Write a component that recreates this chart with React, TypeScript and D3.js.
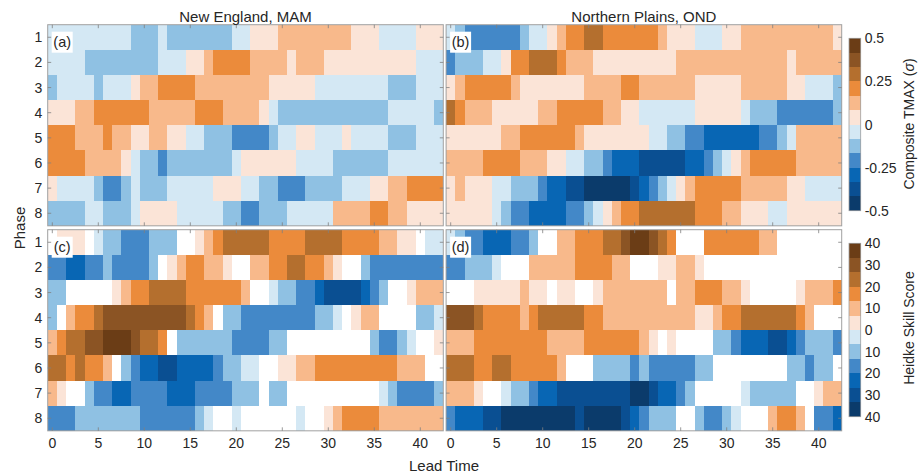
import React, { useEffect, useRef } from 'react';
import * as d3 from 'd3';

// rows = MJO phase, columns = lead time 0..42
const phases = [1, 2, 3, 4, 5, 6, 7, 8];
const leadTicks = [0, 5, 10, 15, 20, 25, 30, 35, 40];
const tmaxTicks = [0.5, 0.25, 0, -0.25, -0.5];
const hssTicks = [40, 30, 20, 10, 0, -10, -20, -30, -40];
const regionTitles = ['New England, MAM', 'Northern Plains, OND'];
const panelLabels = ['(a)', '(b)', '(c)', '(d)'];

// one char per lead time: colour level 0 (most negative) .. b (most positive), w = white (not shaded)
const tmaxNewEngland = [
  '555555555 444 5 4444444 55 666 77777777 666 5555 666',
  '5555 44444444 555 66 7 8888 7777 6 777 6666666666 555',
  '4 5555 4 555 6 77 8888 77777777 66666 55555555 444 555',
  '666 77 888888 77777 888 7777 6 5 444444444444 55555 4',
  '888 777 8 77 66 77 66 55 444 3333 4 55 66 555 6 5555 444 555',
  '8888 7777 6 5 44 3 4444444 5 666666 5555 444444 555555',
  '6 5555 4 33 4 5 444 55555 666 55 44 333 4444 555 66 77 8888',
  '4444 55 444 5 6666 55555 44 33 444 55555 7777 88 77 6666',
];

const tmaxNorthernPlains = [
  '5 4 333333 4 55 6 7 88 99 888888 7 666 555 66 7777777777 6',
  '3 444 55 6 88 999 8 777 666666666 777777777777 6 77777',
  '6 7 88888 7 6666666 7777 88 777777 66666 77777 66 555 4',
  '9 8 777 66666 77 88888 77 66 555555 66666 5 444 333333 4',
  '666666 77 888888 7 6666666 55 44 33 222222 33 4 5 77777',
  '7777 8888 777 66 55 44 3 222 11111 22 3 4 5 6 7 88888 77777',
  '6 7 666 55 444 3 22 11 00000 1 2 3 4 5 6 7 88888 77777 66 5555',
  '66666 5 4 33 2222 33 4 5 6 7 88 999999 888 77 666 55 666666',
];

const hssNewEngland = [
  'w 666 w 5 44 333 444 ww 6 7 8 99999 8888 9999 8888 77 66 w 55',
  '33 22 33 4 3333 4 w 6 7 88 77 6 ww 77 88 99 88 7 6 ww 4 33333333',
  '44 wwwww 6 7 88 9999 888888 7 ww 5 44 33 2 1111 2 3 4 ww 6 777',
  '4 w 7 88 9 aaaaaaaaa 9 8 7 w 44 33333333 44 5 w 6 77 wwww 44 5',
  '7 8 99 aa bbb a 99 8 w 444444 3333 44 wwwwwwwww 4 33 4 5 ww 6',
  '99 8 9 88 7 w 4 3 22 11 2222 3 44 55 ww 66 77 888888888 777 ww',
  '7 6 ww 4 33 22 3333 222 3333 444 w 44 wwwwwwwwww 5 4 3333 4',
  '333 4444444 333333 4 5 ww 5 wwwwww 5 ww 6 7 8888 7777777',
];

const hssNorthernPlains = [
  '5 4 33 222 33 4 ww 77 888 99 a bb a 9 8 www 888888 77 wwwwwww',
  '33 444 5 www 77777 8888 77 www 66 77 6 wwwwwwwwwwwwwww',
  'www 66666 7 66 w 66 ww 6 7777777 w 77 888 77 6 wwwww 6 777 8',
  'aaa 9 8888 7 8 99999 88 7777777777 66 7 88 999999 8 7 www',
  '777 88888888 7777 888888 7 6 w 6 wwww 44 3 222 11 2 3 444 3',
  '999 88 99 88888 7 www 4444 3 4 33333 44 wwwwwwww 44 3 44 w',
  '777 6 ww 5 44 3 22 11111111 00 1 22 3 4 wwwww 5 44444 ww 6 77',
  '3 222 11 00000000 1 0000 1 2 3 444 ww 4 33 4 5 www 7 88 7 w 33 2',
];

const levels = '0123456789ab';
const palette = [
  '#0b3b6b', '#0a4f92', '#0866b4', '#4388c8', '#8fc1e3', '#d4e8f4',
  '#fbe4d7', '#f8b98b', '#eb8b3b', '#b46f2e', '#8b5424', '#6b3d16',
];

// level code -> value at the middle of its colour bin
const decode = (c, lo, hi) => {
  if (c === 'w') return null;
  const i = levels.indexOf(c);
  return lo + ((i + 0.5) * (hi - lo)) / levels.length;
};

const App = () => {
  const svgRef = useRef(null);

  useEffect(() => {
    const svg = d3.select(svgRef.current);
    svg.selectAll('*').remove();

    const font = '"Liberation Sans", Arial, Helvetica, sans-serif';
    const ink = '#262626';
    const tickColor = '#808080';
    const cellW = 9.2;
    const rowH = 25.14;
    const lefts = [47.7, 446.1];
    const tops = [24.7, 229.7];

    const tmaxColor = d3.scaleQuantize<string>().domain([-0.5, 0.5]).range(palette);
    const hssColor = d3.scaleQuantize<string>().domain([-40, 40]).range(palette);

    const panels = [
      { rows: tmaxNewEngland, col: 0, row: 0, color: tmaxColor, lo: -0.5, hi: 0.5 },
      { rows: tmaxNorthernPlains, col: 1, row: 0, color: tmaxColor, lo: -0.5, hi: 0.5 },
      { rows: hssNewEngland, col: 0, row: 1, color: hssColor, lo: -40, hi: 40 },
      { rows: hssNorthernPlains, col: 1, row: 1, color: hssColor, lo: -40, hi: 40 },
    ];

    panels.forEach((p, pi) => {
      const data = p.rows.map(r => r.replace(/ /g, ''));
      const nCols = data[0].length;
      const left = lefts[p.col];
      const top = tops[p.row];
      const x = d3.scaleBand<number>().domain(d3.range(nCols)).range([left, left + nCols * cellW]);
      const y = d3.scaleBand<number>().domain(phases).range([top, top + phases.length * rowH]);
      const right = left + nCols * cellW;
      const bottom = top + phases.length * rowH;

      const cells = [];
      data.forEach((s, ri) => {
        s.split('').forEach((c, ci) => {
          cells.push({ phase: phases[ri], lead: ci, value: decode(c, p.lo, p.hi) });
        });
      });

      const g = svg.append('g');

      g.selectAll('rect.cell')
        .data(cells)
        .enter()
        .append('rect')
        .attr('class', 'cell')
        .attr('x', d => x(d.lead))
        .attr('y', d => y(d.phase))
        .attr('width', x.bandwidth())
        .attr('height', y.bandwidth())
        .attr('fill', d => (d.value === null ? '#ffffff' : p.color(d.value)))
        .attr('shape-rendering', 'crispEdges');

      // frame
      g.append('rect')
        .attr('x', left)
        .attr('y', top)
        .attr('width', right - left)
        .attr('height', bottom - top)
        .attr('fill', 'none')
        .attr('stroke', '#a0a0a0')
        .attr('stroke-width', 1);

      // inward ticks on all four sides
      const tl = 3.5;
      leadTicks.forEach(t => {
        const tx = x(t) + x.bandwidth() / 2;
        g.append('line').attr('x1', tx).attr('x2', tx).attr('y1', top).attr('y2', top + tl)
          .attr('stroke', tickColor).attr('stroke-width', 0.8);
        g.append('line').attr('x1', tx).attr('x2', tx).attr('y1', bottom).attr('y2', bottom - tl)
          .attr('stroke', tickColor).attr('stroke-width', 0.8);
      });
      phases.forEach(ph => {
        const ty = y(ph) + y.bandwidth() / 2;
        g.append('line').attr('x1', left).attr('x2', left + tl).attr('y1', ty).attr('y2', ty)
          .attr('stroke', tickColor).attr('stroke-width', 0.8);
        g.append('line').attr('x1', right).attr('x2', right - tl).attr('y1', ty).attr('y2', ty)
          .attr('stroke', tickColor).attr('stroke-width', 0.8);
      });

      // phase labels on the left panels
      if (p.col === 0) {
        g.selectAll('text.ylab')
          .data(phases)
          .enter()
          .append('text')
          .attr('x', left - 5.5)
          .attr('y', d => y(d) + y.bandwidth() / 2)
          .attr('text-anchor', 'end')
          .attr('dominant-baseline', 'central')
          .style('font-family', font)
          .style('font-size', '14px')
          .style('fill', ink)
          .text(d => d);
      }

      // lead time labels on the bottom panels
      if (p.row === 1) {
        g.selectAll('text.xlab')
          .data(leadTicks)
          .enter()
          .append('text')
          .attr('x', d => x(d) + x.bandwidth() / 2)
          .attr('y', bottom + 17.5)
          .attr('text-anchor', 'middle')
          .style('font-family', font)
          .style('font-size', '14px')
          .style('fill', ink)
          .text(d => d);
      }

      // region title
      if (p.row === 0) {
        g.append('text')
          .attr('x', (left + right) / 2)
          .attr('y', 22)
          .attr('text-anchor', 'middle')
          .style('font-family', font)
          .style('font-size', '15px')
          .style('fill', ink)
          .text(regionTitles[p.col]);
      }

      // panel letter in a white box
      g.append('rect')
        .attr('x', left + 4)
        .attr('y', top + 7)
        .attr('width', 21)
        .attr('height', 21)
        .attr('fill', '#ffffff');
      g.append('text')
        .attr('x', left + 14.5)
        .attr('y', top + 17.5)
        .attr('text-anchor', 'middle')
        .attr('dominant-baseline', 'central')
        .style('font-family', font)
        .style('font-size', '14.5px')
        .style('fill', ink)
        .text(panelLabels[pi]);
    });

    // colour bars
    const bars = [
      { lo: -0.5, hi: 0.5, top: 38.3, bottom: 210.7, ticks: tmaxTicks, fmt: d => String(d), title: 'Composite TMAX (', italic: 'σ', close: ')', mid: 124 },
      { lo: -40, hi: 40, top: 243.3, bottom: 416.7, ticks: hssTicks, fmt: d => String(Math.abs(d)), title: 'Heidke Skill Score', italic: '', close: '', mid: 328 },
    ];
    const barX = 849;
    const barW = 11.7;

    bars.forEach(b => {
      const s = d3.scaleLinear().domain([b.lo, b.hi]).range([b.bottom, b.top]);
      const step = (b.hi - b.lo) / palette.length;
      const g = svg.append('g');
      g.selectAll('rect.box')
        .data(palette)
        .enter()
        .append('rect')
        .attr('x', barX)
        .attr('y', (d, i) => s(b.lo + (i + 1) * step))
        .attr('width', barW)
        .attr('height', (d, i) => s(b.lo + i * step) - s(b.lo + (i + 1) * step))
        .attr('fill', d => d)
        .attr('shape-rendering', 'crispEdges');
      g.append('rect')
        .attr('x', barX)
        .attr('y', b.top)
        .attr('width', barW)
        .attr('height', b.bottom - b.top)
        .attr('fill', 'none')
        .attr('stroke', '#a0a0a0')
        .attr('stroke-width', 0.8);
      g.selectAll('text.tick')
        .data(b.ticks)
        .enter()
        .append('text')
        .attr('x', barX + barW + 4)
        .attr('y', d => s(d))
        .attr('dominant-baseline', 'central')
        .style('font-family', font)
        .style('font-size', '14px')
        .style('fill', ink)
        .text(b.fmt);

      const t = g.append('text')
        .attr('transform', `translate(914,${b.mid}) rotate(-90)`)
        .attr('text-anchor', 'middle')
        .style('font-family', font)
        .style('font-size', '14px')
        .style('fill', ink);
      t.append('tspan').text(b.title);
      if (b.italic) {
        t.append('tspan').style('font-style', 'italic').text(b.italic);
        t.append('tspan').text(b.close);
      }
    });

    // shared axis titles
    svg.append('text')
      .attr('transform', 'translate(25,228) rotate(-90)')
      .attr('text-anchor', 'middle')
      .style('font-family', font)
      .style('font-size', '15px')
      .style('fill', ink)
      .text('Phase');

    svg.append('text')
      .attr('x', 444)
      .attr('y', 471)
      .attr('text-anchor', 'middle')
      .style('font-family', font)
      .style('font-size', '15px')
      .style('fill', ink)
      .text('Lead Time');
  }, []);

  return (
    <svg
      ref={svgRef}
      width={923}
      height={474}
      style={{ position: 'absolute', left: 0, top: 0, background: '#ffffff' }}
    />
  );
};

export default App;
